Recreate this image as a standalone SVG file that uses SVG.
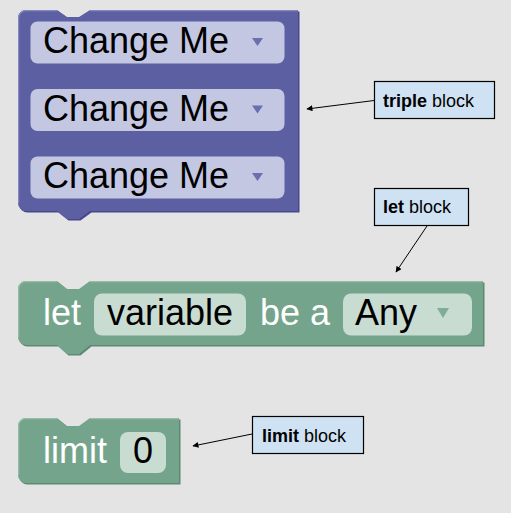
<svg xmlns="http://www.w3.org/2000/svg" width="511" height="513" viewBox="0 0 511 513">
<defs>
<style>
.bt{font-family:"Liberation Sans",Arial,sans-serif;font-size:36px;}
.dark{fill:#000;}
.white{fill:#fff;}
.purple{fill:#5c60a2;}
.purpleShadow{fill:#46498a;}
.pfield{fill:#c4c7e1;}
.parrow{fill:#6a6fb0;}
.green{fill:#74a48c;}
.greenShadow{fill:#5c8a73;}
.gfield{fill:#c8dcd2;}
.garrow{fill:#7eae96;}
.hl{fill:none;stroke-width:1.2;}
.note rect{fill:#cfe2f3;stroke:#000;stroke-width:1.2;}
.note text{font-family:"Liberation Sans",Arial,sans-serif;font-size:18px;fill:#000;}
.conn line{stroke:#000;stroke-width:1;marker-end:url(#ah);}
</style>
<marker id="ah" viewBox="0 0 10 10" refX="9" refY="5" markerWidth="7" markerHeight="6" markerUnits="userSpaceOnUse" orient="auto">
<path d="M0,0 L10,5 L0,10 Z" fill="#000"/>
</marker>
</defs>
<rect x="0" y="0" width="511" height="513" fill="#e4e4e4"/>

<g id="triple-block">
<path class="purpleShadow" transform="translate(1.5,1.5)" d="M18,18 A8,8 0 0 1 26,10 L57,10 L67,17 L79,17 L90,10 L298,10 L298,211 L90,211 L79,219 L67,219 L57,211 L26,211 A8,8 0 0 1 18,203 Z"/>
<path class="purple" d="M18,18 A8,8 0 0 1 26,10 L57,10 L67,17 L79,17 L90,10 L298,10 L298,211 L90,211 L79,219 L67,219 L57,211 L26,211 A8,8 0 0 1 18,203 Z"/>
<path class="hl" stroke="#8589c0" d="M18.6,203 L18.6,18 A7.4,7.4 0 0 1 26,10.6 L57,10.6 M90,10.6 L297.5,10.6"/>
<rect class="pfield" x="30.5" y="21.5" width="254" height="42" rx="7"/>
<text class="bt dark" x="43" y="53">Change Me</text>
<path class="parrow" d="M252,38 L263,38 L257.5,46 Z"/>
<rect class="pfield" x="30.5" y="89" width="254" height="42" rx="7"/>
<text class="bt dark" x="43" y="120.5">Change Me</text>
<path class="parrow" d="M252,105.5 L263,105.5 L257.5,113.5 Z"/>
<rect class="pfield" x="30.5" y="156.5" width="254" height="42" rx="7"/>
<text class="bt dark" x="43" y="188">Change Me</text>
<path class="parrow" d="M252,173 L263,173 L257.5,181 Z"/>
</g>

<g id="let-block">
<path class="greenShadow" transform="translate(1.5,1.5)" d="M18,289 A8,8 0 0 1 26,281 L57,281 L67,289 L79,289 L90,281 L483,281 L483,345 L90,345 L79,354 L67,354 L57,345 L26,345 A8,8 0 0 1 18,337 Z"/>
<path class="green" d="M18,289 A8,8 0 0 1 26,281 L57,281 L67,289 L79,289 L90,281 L483,281 L483,345 L90,345 L79,354 L67,354 L57,345 L26,345 A8,8 0 0 1 18,337 Z"/>
<path class="hl" stroke="#94bca8" d="M18.6,337 L18.6,289 A7.4,7.4 0 0 1 26,281.6 L57,281.6 M90,281.6 L482.5,281.6"/>
<text class="bt white" x="43" y="325">let</text>
<rect class="gfield" x="94" y="293.5" width="152" height="42" rx="8"/>
<text class="bt dark" x="170" y="325" text-anchor="middle">variable</text>
<text class="bt white" x="260" y="325">be a</text>
<rect class="gfield" x="343" y="293.5" width="129" height="42" rx="8"/>
<text class="bt dark" x="355" y="325">Any</text>
<path class="garrow" d="M437,308 L449,308 L443,318 Z"/>
</g>

<g id="limit-block">
<path class="greenShadow" transform="translate(1.5,1.5)" d="M18,426 A8,8 0 0 1 26,418 L57,418 L67,426 L79,426 L90,418 L179,418 L179,483 L26,483 A8,8 0 0 1 18,475 Z"/>
<path class="green" d="M18,426 A8,8 0 0 1 26,418 L57,418 L67,426 L79,426 L90,418 L179,418 L179,483 L26,483 A8,8 0 0 1 18,475 Z"/>
<path class="hl" stroke="#94bca8" d="M18.6,475 L18.6,426 A7.4,7.4 0 0 1 26,418.6 L57,418.6 M90,418.6 L178.5,418.6"/>
<text class="bt white" x="43" y="463">limit</text>
<rect class="gfield" x="120" y="432" width="46" height="41" rx="8"/>
<text class="bt dark" x="143" y="463" text-anchor="middle">0</text>
</g>

<g id="note-triple" class="note">
<rect x="374.5" y="81.5" width="120" height="37"/>
<text x="383" y="106.5"><tspan font-weight="bold">triple</tspan> block</text>
</g>
<g id="note-let" class="note">
<rect x="374.5" y="188.5" width="94" height="37"/>
<text x="383" y="213"><tspan font-weight="bold">let</tspan> block</text>
</g>
<g id="note-limit" class="note">
<rect x="252.5" y="416.5" width="111" height="37"/>
<text x="262" y="442"><tspan font-weight="bold">limit</tspan> block</text>
</g>

<g id="connectors" class="conn">
<line x1="374" y1="100.5" x2="307" y2="109"/>
<line x1="427" y1="226" x2="396" y2="272"/>
<line x1="252" y1="434" x2="193" y2="446"/>
</g>
</svg>
